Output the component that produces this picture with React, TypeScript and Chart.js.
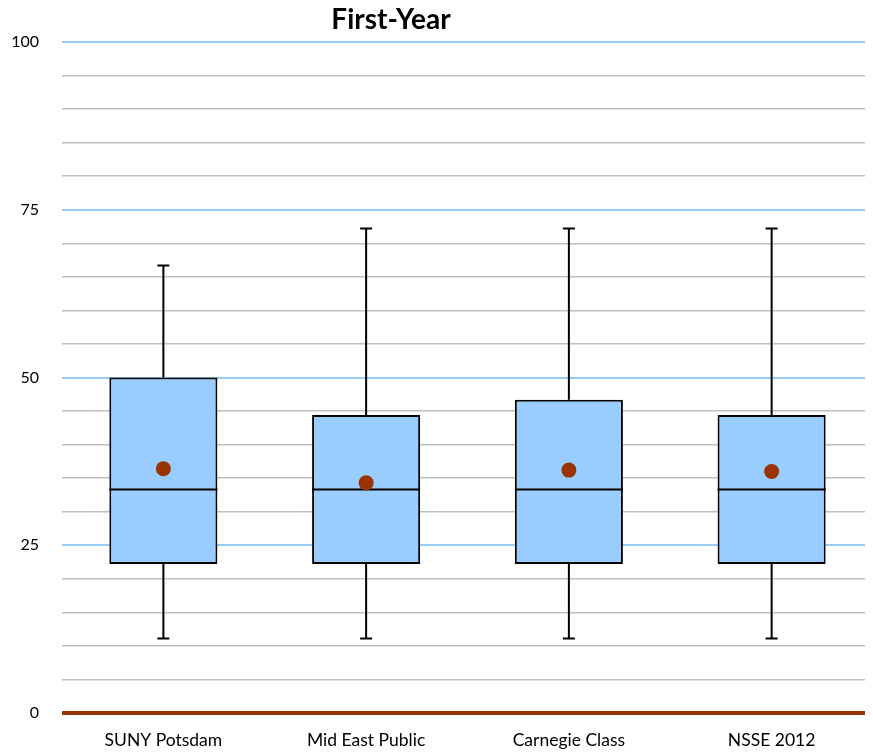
import React, { useEffect, useRef } from "react";
import { Chart, registerables } from "chart.js";

Chart.register(...registerables);

const categories = ["SUNY Potsdam", "Mid East Public", "Carnegie Class", "NSSE 2012"];
const whiskerLow = [11.1, 11.1, 11.1, 11.1];
const q1 = [22.2, 22.2, 22.2, 22.2];
const median = [33.3, 33.3, 33.3, 33.3];
const q3 = [50, 44.4, 46.7, 44.4];
const whiskerHigh = [66.7, 72.2, 72.2, 72.2];
const means = [36.4, 34.3, 36.2, 36.0];
const titleText = "First-Year";

const FONT = "Lato, 'Open Sans', sans-serif";

const boxPlugin = {
  id: "boxExtras",
  beforeDatasetsDraw(chart: any) {
    const { ctx } = chart;
    const meta = chart.getDatasetMeta(0);
    const y = chart.scales.y;
    ctx.save();
    ctx.strokeStyle = "#000000";
    ctx.lineWidth = 2;
    meta.data.forEach((bar: any, i: number) => {
      const x = bar.x;
      const capHalf = 6;
      const yHi = y.getPixelForValue(whiskerHigh[i]);
      const yQ3 = y.getPixelForValue(q3[i]);
      const yLo = y.getPixelForValue(whiskerLow[i]);
      const yQ1 = y.getPixelForValue(q1[i]);
      ctx.beginPath();
      ctx.moveTo(x, yHi);
      ctx.lineTo(x, yQ3);
      ctx.moveTo(x, yQ1);
      ctx.lineTo(x, yLo);
      ctx.moveTo(x - capHalf, yHi);
      ctx.lineTo(x + capHalf, yHi);
      ctx.moveTo(x - capHalf, yLo);
      ctx.lineTo(x + capHalf, yLo);
      ctx.stroke();
    });
    ctx.restore();
  },
  afterDatasetDraw(chart: any, args: any) {
    if (args.index !== 0) return;
    const { ctx } = chart;
    const meta = chart.getDatasetMeta(0);
    const y = chart.scales.y;
    ctx.save();
    ctx.strokeStyle = "#000000";
    ctx.lineWidth = 2;
    meta.data.forEach((bar: any, i: number) => {
      const half = bar.width / 2;
      const ym = y.getPixelForValue(median[i]);
      ctx.beginPath();
      ctx.moveTo(bar.x - half, ym);
      ctx.lineTo(bar.x + half, ym);
      ctx.stroke();
    });
    ctx.restore();
  },
  afterDraw(chart: any) {
    const { ctx } = chart;
    ctx.save();
    ctx.fillStyle = "#000000";
    ctx.font = `bold 28px ${FONT}`;
    ctx.textAlign = "center";
    ctx.textBaseline = "middle";
    ctx.fillText(titleText, 383, 12);
    ctx.restore();
  },
};

export default function App() {
  const ref = useRef<HTMLCanvasElement>(null);
  useEffect(() => {
    if (!ref.current) return;
    const chart = new Chart(ref.current, {
      type: "bar",
      data: {
        labels: categories,
        datasets: [
          {
            type: "bar",
            data: categories.map((_, i) => [q1[i], q3[i]]) as any,
            backgroundColor: "#99CCFF",
            borderColor: "#000000",
            borderWidth: 2,
            borderSkipped: false,
            categoryPercentage: 1,
            barPercentage: 0.533,
            order: 2,
          } as any,
          {
            type: "line",
            data: means,
            showLine: false,
            pointRadius: 7.5,
            pointHoverRadius: 7.5,
            pointBackgroundColor: "#993300",
            pointBorderColor: "#993300",
            pointBorderWidth: 0,
            order: 1,
          } as any,
        ],
      },
      options: {
        responsive: false,
        animation: false,
        layout: { autoPadding: false, padding: { top: 34, right: 0, left: 0, bottom: 0 } },
        plugins: {
          legend: { display: false },
          title: { display: false },
          tooltip: { enabled: false },
        },
        scales: {
          x: {
            grid: { display: false },
            border: { display: false },
            ticks: {
              color: "#000000",
              font: { family: FONT, size: 17.5 },
              padding: 9,
            },
            afterFit: (s: any) => {
              s.height = 39;
              s.paddingLeft = 0;
              s.paddingRight = 0;
            },
          },
          y: {
            min: 0,
            max: 100,
            border: { display: false },
            grid: {
              drawTicks: false,
              color: (c: any) => {
                const v = c.tick?.value;
                if (v === 0) return "#993300";
                return v % 25 === 0 ? "#99CCF5" : "#BFBFBF";
              },
              lineWidth: (c: any) => {
                const v = c.tick?.value;
                if (v === 0) return 4;
                return v % 25 === 0 ? 2 : 1.5;
              },
            },
            ticks: {
              stepSize: 5,
              color: "#000000",
              font: { family: FONT, size: 16 },
              padding: 23,
              callback: (v: any) => (Number(v) % 25 === 0 ? String(v) : ""),
            },
            afterFit: (s: any) => {
              s.width = 54;
              s.paddingTop = 0;
              s.paddingBottom = 0;
            },
          },
        },
      },
      plugins: [boxPlugin],
    });
    return () => chart.destroy();
  }, []);
  return (
    <div style={{ width: 865, height: 744 }}>
      <canvas ref={ref} width={865} height={744} style={{ display: "block", width: 865, height: 744 }} />
    </div>
  );
}
